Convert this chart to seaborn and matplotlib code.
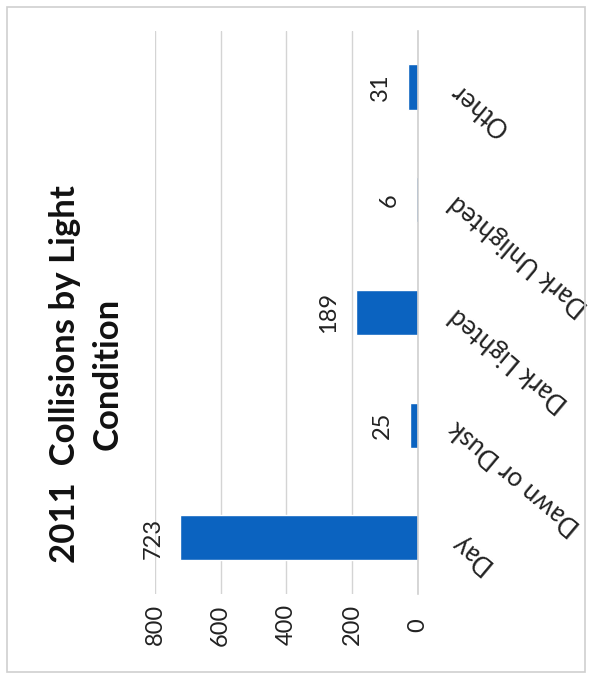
import matplotlib
matplotlib.use("Agg")
import matplotlib.pyplot as plt
import seaborn as sns
import pandas as pd
from matplotlib.patches import Rectangle

categories = ["Other", "Dark Unlighted", "Dark Lighted", "Dawn or Dusk", "Day"]
values = [31, 6, 189, 25, 723]
value_ticks = [0, 200, 400, 600, 800]
title = "2011  Collisions by Light\nCondition"

sns.set_theme(style="white")
plt.rcParams["font.family"] = ["Lato", "DejaVu Sans"]

df = pd.DataFrame({"condition": categories, "count": values})

fig = plt.figure(figsize=(5.92, 6.80), dpi=100)
fig.patch.set_facecolor("white")
ax = fig.add_axes([0.2618, 0.126, 0.4443, 0.829])

sns.barplot(data=df, x="count", y="condition", order=categories, orient="h",
            color="#0B63C0", saturation=1, width=0.4, ax=ax)

ax.set_xlim(800, 0)
ax.set_xticks(value_ticks)
ax.set_xticklabels([str(v) for v in value_ticks], rotation=90, fontsize=17,
                   color="#222222", va="center")
ax.tick_params(axis="x", length=0, pad=22)

ax.yaxis.tick_right()
ax.set_yticks(range(len(categories)))
ax.set_yticklabels(categories, rotation=140, rotation_mode="anchor",
                   ha="right", va="center", fontsize=18.5, color="#222222")
ax.tick_params(axis="y", length=0, pad=25)

ax.set_xlabel("")
ax.set_ylabel("")
ax.grid(axis="x", color="#d4d4d4", lw=1)
ax.set_axisbelow(True)
for s in ["left", "top", "bottom"]:
    ax.spines[s].set_visible(False)
ax.spines["right"].set_color("#d0d0d0")
ax.spines["right"].set_linewidth(1.2)

for patch, v in zip(ax.patches, values):
    y = patch.get_y() + patch.get_height() / 2
    ax.annotate(str(v), xy=(patch.get_width(), y), xytext=(-19.5, 0),
                textcoords="offset points", rotation=90, ha="center",
                va="center", fontsize=17, color="#222222")

fig.text(0.1453, 0.45, title, rotation=90, ha="center", va="center",
         fontsize=25, fontweight="bold", color="#111111",
         multialignment="center", linespacing=1.4)

fig.patches.append(Rectangle((0.012, 0.012), 0.976, 0.978, transform=fig.transFigure,
                             fill=False, edgecolor="#cfcfcf", lw=1.2))

fig.savefig("out.png", dpi=100, facecolor="white")
